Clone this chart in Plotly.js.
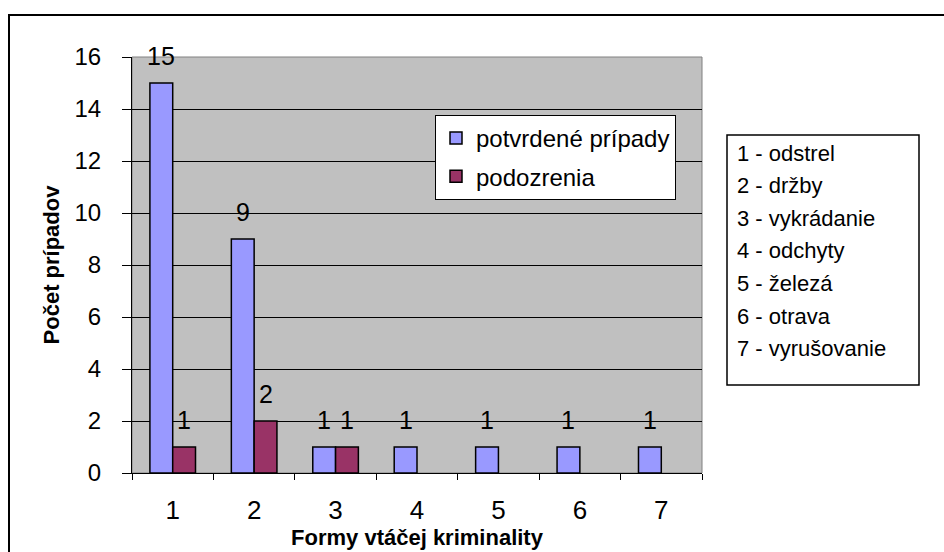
<!DOCTYPE html>
<html>
<head>
<meta charset="utf-8">
<script src="https://cdn.plot.ly/plotly-3.0.1.min.js"></script>
<style>
  html, body { margin:0; padding:0; background:#fff; overflow:hidden; }
  #wrap { position:relative; width:944px; height:552px; overflow:hidden; }
  #chart { position:absolute; left:0; top:0; width:944px; height:552px; }
  #frame { position:absolute; left:8px; top:14px; width:2000px; height:2000px;
           border:2px solid #000; pointer-events:none; }
</style>
</head>
<body>
<div id="wrap">
  <div id="chart"></div>
  <div id="frame"></div>
</div>
<script>
// ---- data ----
const categories = ['1', '2', '3', '4', '5', '6', '7'];
const categoryNames = ['odstrel', 'držby', 'vykrádanie', 'odchyty', 'železá', 'otrava', 'vyrušovanie'];
const confirmedCases = [15, 9, 1, 1, 1, 1, 1];
const suspicions = [1, 2, 1, null, null, null, null];
const seriesNames = ['potvrdené prípady', 'podozrenia'];
const yTicks = [0, 2, 4, 6, 8, 10, 12, 14, 16];

const FONT = 'Arial, "Liberation Sans", sans-serif';
const bargap = 0.44;
const half = (1 - bargap) / 4;

const traces = [
  { type: 'bar', name: seriesNames[0], x: categories, y: confirmedCases,
    legendgroup: 'a',
    marker: { color: '#9999FF', line: { color: '#000', width: 1.5 } }, hoverinfo: 'skip' },
  { type: 'bar', name: seriesNames[1], x: categories, y: suspicions,
    legendgroup: 'b',
    marker: { color: '#993366', line: { color: '#000', width: 1.5 } }, hoverinfo: 'skip' }
];

const annotations = [];
[confirmedCases, suspicions].forEach((vals, s) => {
  vals.forEach((v, i) => {
    if (v === null || v === undefined) return;
    annotations.push({
      xref: 'x', yref: 'y', x: i + (s === 0 ? -half : half), y: v,
      text: String(v), showarrow: false, yanchor: 'bottom', xanchor: 'center',
      yshift: 11, font: { family: FONT, size: 25, color: '#000' }
    });
  });
});

// Category key box (right side)
const L = 132, T = 57, W = 570, H = 416;
const px2x = p => (p - L) / W;
const py2y = p => (T + H - p) / H;
const boxTop = 153, boxStep = 32.6;
categoryNames.forEach((n, i) => {
  annotations.push({
    xref: 'paper', yref: 'paper', x: px2x(735), y: py2y(boxTop + i * boxStep),
    xanchor: 'left', yanchor: 'middle', showarrow: false,
    text: categories[i] + ' - ' + n,
    font: { family: FONT, size: 22, color: '#000' }
  });
});

const layout = {
  width: 944, height: 552,
  margin: { l: L, r: 944 - L - W, t: T, b: 552 - T - H, pad: 0 },
  paper_bgcolor: '#fff', plot_bgcolor: '#C0C0C0',
  barmode: 'group', bargap: bargap, bargroupgap: 0,
  font: { family: FONT, color: '#000' },
  showlegend: true,
  legend: {
    x: px2x(435), y: py2y(115), xanchor: 'left', yanchor: 'top',
    bgcolor: '#fff', bordercolor: '#000', borderwidth: 1,
    font: { family: FONT, size: 24, color: '#000' },
    traceorder: 'grouped', tracegroupgap: 4
  },
  xaxis: {
    type: 'category', categoryorder: 'array', categoryarray: categories,
    tickson: 'boundaries', ticks: 'outside', ticklen: 6, tickcolor: '#000', tickwidth: 1,
    showline: true, linecolor: '#000', linewidth: 1, showgrid: false,
    tickfont: { family: FONT, size: 26, color: '#000' }, ticklabelstandoff: 14,
    title: { text: 'Formy vtáčej kriminality', standoff: 2,
             font: { family: FONT, size: 22, color: '#000', weight: 'bold' } },
    fixedrange: true
  },
  yaxis: {
    range: [0, 16], tickvals: yTicks, ticktext: yTicks.map(String),
    ticks: 'outside', ticklen: 9, tickcolor: '#000', tickwidth: 1,
    showline: true, linecolor: '#000', linewidth: 1,
    showgrid: true, gridcolor: '#000', gridwidth: 1, zeroline: false,
    tickfont: { family: FONT, size: 24, color: '#000' }, ticklabelstandoff: 16,
    title: { text: 'Počet prípadov', standoff: 8,
             font: { family: FONT, size: 22, color: '#000', weight: 'bold' } },
    fixedrange: true
  },
  shapes: [
    { type: 'rect', xref: 'paper', yref: 'paper', x0: 0, x1: 1, y0: 0, y1: 1,
      line: { color: '#808080', width: 1 }, layer: 'below' },
    { type: 'rect', xref: 'paper', yref: 'paper',
      x0: px2x(727), x1: px2x(919), y0: py2y(385), y1: py2y(135),
      line: { color: '#000', width: 1.5 }, fillcolor: '#fff', layer: 'above' }
  ],
  annotations: annotations
};

Plotly.newPlot('chart', traces, layout, { displayModeBar: false, staticPlot: true });
</script>
</body>
</html>
